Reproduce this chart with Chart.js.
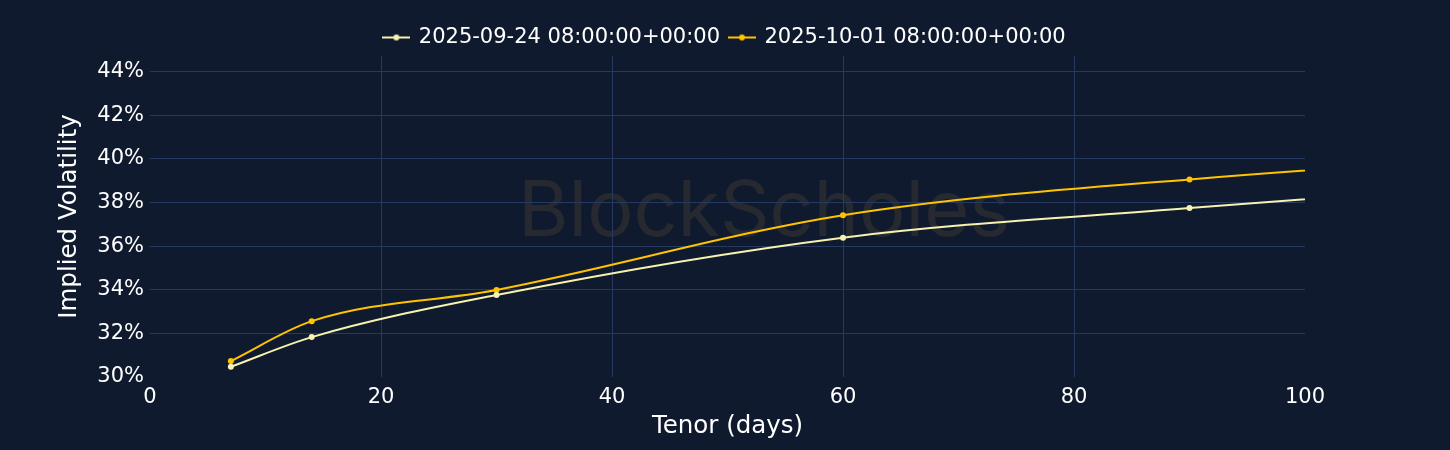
<!DOCTYPE html>
<html>
<head>
<meta charset="utf-8">
<script src="https://cdn.jsdelivr.net/npm/chart.js@4/dist/chart.umd.min.js"></script>
<style>
  html, body { margin: 0; padding: 0; background: #101a2e; }
  #wrap { width: 1450px; height: 450px; }
</style>
</head>
<body>
<div id="wrap"><canvas id="c" width="1450" height="450"></canvas></div>
<script>
// ---- data ----
const seriesLabels = ['2025-09-24 08:00:00+00:00', '2025-10-01 08:00:00+00:00'];
const tenorDays = [7, 14, 30, 60, 90, 180];
const iv0924 = [30.47, 31.83, 33.76, 36.39, 37.75, 41.35];
const iv1001 = [30.73, 32.56, 33.99, 37.42, 39.06, 41.9];
const xTicks = [0, 20, 40, 60, 80, 100];
const yTicks = [30, 32, 34, 36, 38, 40, 42, 44];

const colors = ['#f6f2b0', '#ffc400'];
const BG = '#101a2e';
const GRID = '#263961';
const FONT = '"DejaVu Sans", Verdana, sans-serif';

function legendIcon(color) {
  const c = document.createElement('canvas');
  c.width = 28; c.height = 10;
  const g = c.getContext('2d');
  g.strokeStyle = color; g.lineWidth = 2;
  g.beginPath(); g.moveTo(0, 5); g.lineTo(28, 5); g.stroke();
  g.fillStyle = color;
  g.beginPath(); g.arc(14, 5, 3, 0, Math.PI * 2); g.fill();
  return c;
}
const icons = colors.map(legendIcon);

const bgPlugin = {
  id: 'bgWatermark',
  beforeDraw(chart) {
    const ctx = chart.ctx;
    ctx.save();
    ctx.fillStyle = BG;
    ctx.fillRect(0, 0, chart.width, chart.height);
    const text = 'BlockScholes';
    ctx.font = '400 80px Inter, "Noto Sans", sans-serif';
    const w = ctx.measureText(text).width;
    const size = 80 * 492 / w;
    ctx.font = '400 ' + size + 'px Inter, "Noto Sans", sans-serif';
    ctx.fillStyle = '#26292f';
    ctx.textAlign = 'center';
    ctx.textBaseline = 'middle';
    ctx.fillText(text, 764, 213);
    ctx.restore();
  }
};

const datasets = [iv0924, iv1001].map((vals, i) => ({
  label: seriesLabels[i],
  data: tenorDays.map((d, j) => ({ x: d, y: vals[j] })),
  borderColor: colors[i],
  backgroundColor: colors[i],
  pointBackgroundColor: colors[i],
  pointBorderWidth: 0,
  pointRadius: 3,
  borderWidth: 2,
  cubicInterpolationMode: 'monotone',
  clip: 0,
  fill: false,
  yAxisID: 'y'
}));

new Chart(document.getElementById('c'), {
  type: 'line',
  data: { datasets },
  plugins: [bgPlugin],
  options: {
    responsive: false,
    animation: false,
    devicePixelRatio: 1,
    layout: { padding: { left: 0, right: 0, top: 17, bottom: 0 } },
    plugins: {
      tooltip: { enabled: false },
      legend: {
        position: 'top',
        maxHeight: 39,
        labels: {
          usePointStyle: true,
          pointStyleWidth: 24,
          padding: 10,
          color: '#ffffff',
          font: { family: FONT, size: 21 },
          generateLabels(chart) {
            const items = Chart.defaults.plugins.legend.labels.generateLabels(chart);
            items.forEach((it, i) => { it.pointStyle = icons[i]; it.fontColor = '#ffffff'; });
            return items;
          }
        }
      }
    },
    scales: {
      x: {
        type: 'linear',
        min: 0, max: 100,
        afterFit(s) { s.height = 73; },
        afterBuildTicks(s) { s.ticks = xTicks.map(v => ({ value: v })); },
        border: { display: false },
        grid: {
          drawTicks: false,
          color: (c) => (c.tick && (c.tick.value === 0 || c.tick.value === 100)) ? 'rgba(0,0,0,0)' : GRID,
          lineWidth: 1
        },
        ticks: {
          color: '#ffffff',
          padding: 8,
          maxRotation: 0,
          font: { family: FONT, size: 21 }
        },
        title: {
          display: true,
          text: 'Tenor (days)',
          color: '#ffffff',
          padding: { top: 0, bottom: 9 },
          font: { family: FONT, size: 24.5 }
        }
      },
      y: {
        type: 'linear',
        position: 'left',
        min: 30, max: 44.72,
        afterFit(s) { s.width = 150; },
        afterBuildTicks(s) { s.ticks = yTicks.map(v => ({ value: v })); },
        border: { display: false },
        grid: {
          drawTicks: false,
          color: (c) => (c.tick && c.tick.value === 30) ? 'rgba(0,0,0,0)' : GRID,
          lineWidth: 1
        },
        ticks: {
          color: '#ffffff',
          padding: 6,
          callback: (v) => v + '%',
          font: { family: FONT, size: 21 }
        },
        title: {
          display: true,
          text: 'Implied Volatility',
          color: '#ffffff',
          padding: { top: 55, bottom: 0 },
          font: { family: FONT, size: 24.5 }
        }
      },
      yRight: {
        type: 'linear',
        position: 'right',
        min: 30, max: 44.72,
        afterFit(s) { s.width = 145; },
        border: { display: false },
        grid: { display: false, drawTicks: false },
        ticks: { display: false },
        title: { display: false }
      }
    }
  }
});
</script>
</body>
</html>
